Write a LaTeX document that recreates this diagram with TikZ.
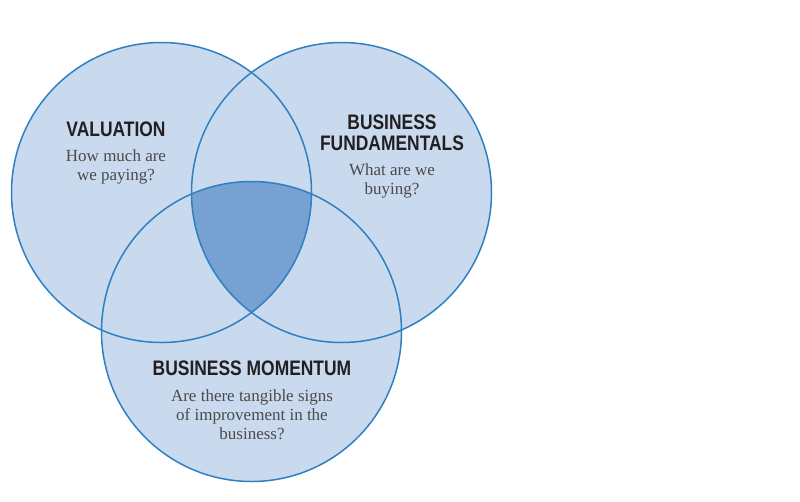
\documentclass[tikz,border=0pt]{standalone}
\usepackage{fontspec}
\setmainfont{Liberation Serif}
\newfontfamily\vennheadfont[FakeStretch=0.83]{Liberation Sans}
\definecolor{vennfill}{HTML}{C9DAEF}
\definecolor{venncore}{HTML}{77A1D2}
\definecolor{vennline}{HTML}{2F80C1}
\definecolor{vennhead}{HTML}{231F20}
\definecolor{venntext}{HTML}{4A4A4A}
\newcommand\vennradius{150}
\newcommand\vennheadstyle{\fontsize{21}{21}\selectfont\bfseries\vennheadfont}
\newcommand\venntextstyle{\fontsize{17}{19}\selectfont}
\tikzset{
  venncircle/.style={circle, minimum size=2*\vennradius pt, inner sep=0pt},
  vennhead/.style={align=center, text=vennhead, font=\vennheadstyle, inner sep=0pt},
  venntext/.style={align=center, text=venntext, font=\venntextstyle, inner sep=0pt}
}
\begin{document}
\begin{tikzpicture}[x=1pt, y=-1pt]
    \useasboundingbox (0, 0) rectangle (800, 501) ;
    \node (valuation) [venncircle, fill=vennfill] at (161.5, 192.5) {} ;
    \node (fundamentals) [venncircle, fill=vennfill] at (341.5, 192.5) {} ;
    \node (momentum) [venncircle, fill=vennfill] at (251.5, 331.5) {} ;
    \begin{scope}
      \clip (valuation.center) circle [radius=\vennradius] ;
      \clip (fundamentals.center) circle [radius=\vennradius] ;
      \fill [venncore] (momentum.center) circle [radius=\vennradius] ;
    \end{scope}
    \draw [vennline, line width=1.5pt] (valuation.center) circle [radius=\vennradius] ;
    \draw [vennline, line width=1.5pt] (fundamentals.center) circle [radius=\vennradius] ;
    \draw [vennline, line width=1.5pt] (momentum.center) circle [radius=\vennradius] ;
    \node (valhead) [vennhead] at (116, 129) {VALUATION} ;
    \node (valtext) [venntext] at (116, 166.5) {How much are\\we paying?} ;
    \node (funhead) [vennhead] at (392, 132.5) {BUSINESS\\FUNDAMENTALS} ;
    \node (funtext) [venntext] at (392, 180.5) {What are we\\buying?} ;
    \node (momhead) [vennhead] at (252, 368) {BUSINESS MOMENTUM} ;
    \node (momtext) [venntext] at (252, 415) {Are there tangible signs\\of improvement in the\\business?} ;
  \end{tikzpicture}
\end{document}
